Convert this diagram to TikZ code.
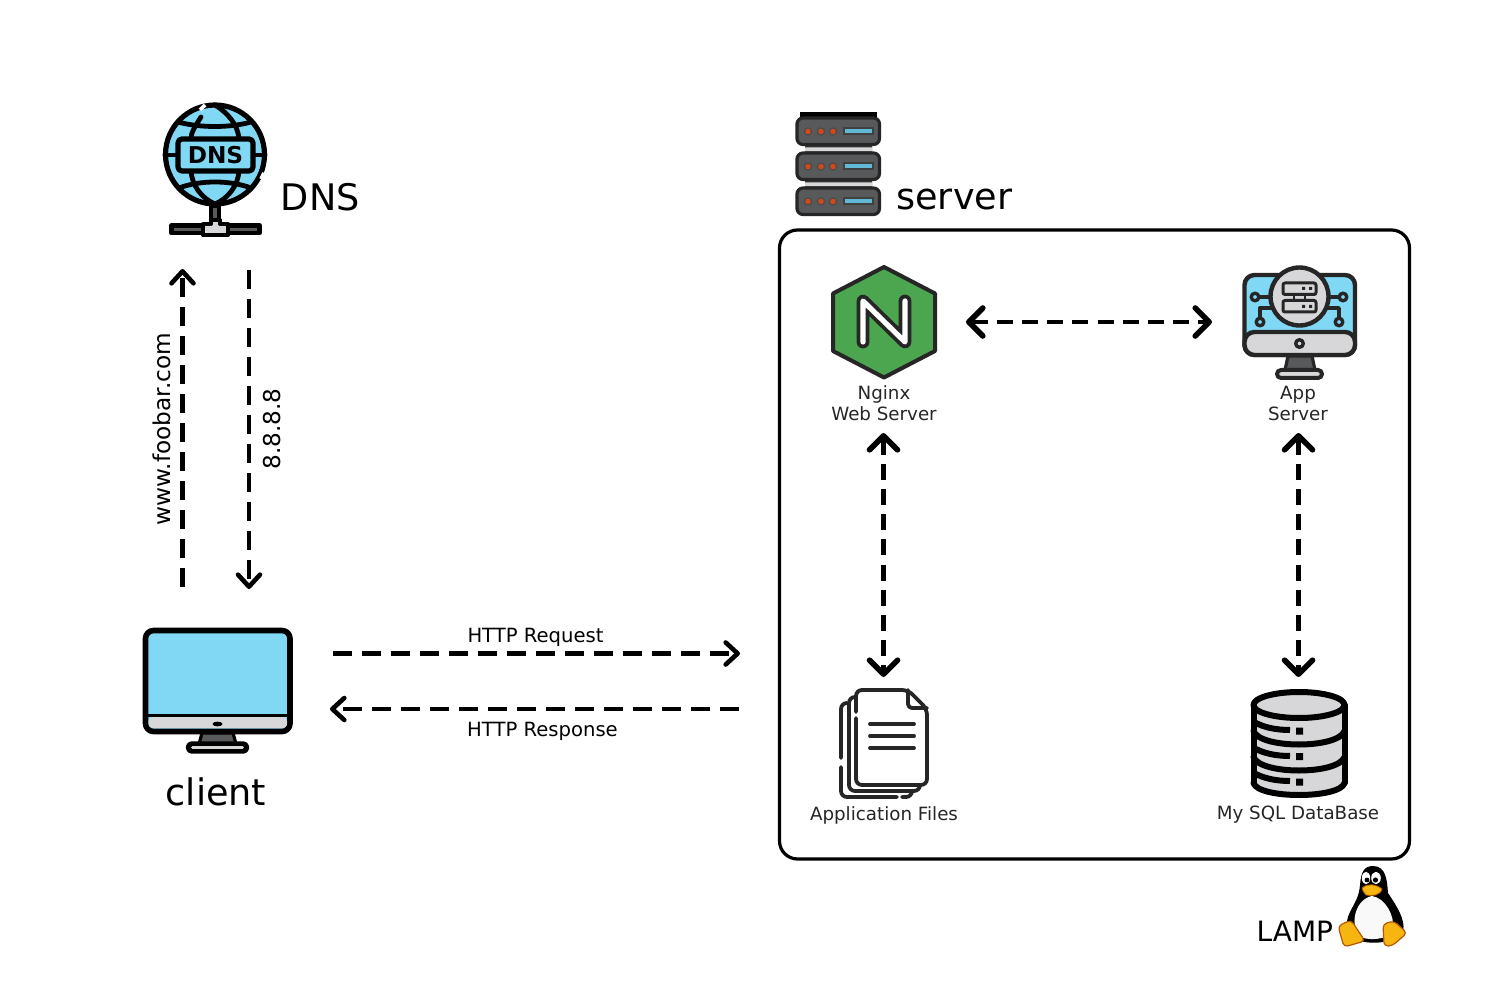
\documentclass[tikz,border=0pt]{standalone}
\usepackage{fontspec}
\setmainfont{DejaVu Sans}
\usetikzlibrary{arrows.meta}
\definecolor{skyb}{HTML}{81D8F5}
\definecolor{lgray}{HTML}{D7D7D9}
\definecolor{dgray}{HTML}{58595B}
\definecolor{ngreen}{HTML}{4CA650}
\definecolor{tuxo}{HTML}{F7B512}
\definecolor{srvdot}{HTML}{D0481C}
\definecolor{srvbar}{HTML}{62B9D6}
\tikzset{
  flow/.style={line width=2.4pt,dash pattern=on 9.5pt off 5pt,-{Straight Barb[length=6pt,width=11pt,round,line width=2.3pt]}},
  flowb/.style={line width=2.2pt,dash pattern=on 8pt off 4.6pt,{Straight Barb[length=7pt,width=14pt,round,line width=2.8pt]}-{Straight Barb[length=7pt,width=14pt,round,line width=2.8pt]}},
  icon/.style={line width=2.6pt,line join=round,line cap=round,draw=black},
  thin icon/.style={line width=1.5pt,line join=round,line cap=round,draw=black!85},
  big/.style={font=\fontsize{18.3pt}{22pt}\selectfont,inner sep=0pt},
  small/.style={font=\fontsize{9.13pt}{10.5pt}\selectfont,inner sep=0pt,align=center,text=black!85},
  edge label/.style={font=\fontsize{9.8pt}{12pt}\selectfont,inner sep=0pt},
  side label/.style={font=\fontsize{11.6pt}{14pt}\selectfont,inner sep=0pt,rotate=90},
}
\begin{document}
\begin{tikzpicture}[x=0.5pt,y=-0.5pt]
\useasboundingbox (0,0) rectangle (1500,1000);
\fill[white] (0,0) rectangle (1500,1000);

% ---------- DNS icon
\draw[icon,fill=skyb] (215,154.5) circle (49.5);
\draw[icon,line width=2.4pt] (201,117) .. controls (194,128) and (191,133) .. (191,139);
\draw[icon,line width=2.4pt] (215,105) .. controls (228,113) and (238,125) .. (239,139);
\draw[icon,line width=2.4pt] (191,171) .. controls (192,185) and (201,198) .. (215,204) .. controls (229,198) and (238,185) .. (239,171);
\draw[icon,line width=2.4pt] (178,122) .. controls (200,128) and (230,128) .. (251,122);
\draw[icon,line width=2.4pt] (179,188) .. controls (200,180) and (230,180) .. (251,188);
\draw[icon,line width=2.4pt] (165,155)--(178,155) (253,155)--(265,155);
\draw[icon,fill=skyb,rounded corners=2pt] (178,139) rectangle (253,171);
\draw[white,line width=1.8pt] (205,105)--(200,110);
\draw[white,line width=1.8pt] (264,173)--(261,179);
\node[font=\bfseries\fontsize{11.6pt}{14pt}\selectfont,inner sep=0pt] (dnsword) at (215.5,155) {DNS};
\draw[icon,fill=dgray,line width=1.8pt] (211,206) rectangle (219,222);
\draw[icon,fill=dgray,line width=2.2pt] (171.5,225.5) rectangle (259.5,233);
\draw[icon,fill=lgray,line width=2pt] (203,224) -- (211,224) -- (211,220) -- (220,220) -- (220,224) -- (228,224) -- (228,235) -- (203,235) -- cycle;
\node[big,anchor=base west] (dns) at (280.5,211) {DNS};

% ---------- server icon
\fill[black] (800,112.5) rectangle (877,119);
\fill[black!80] (805,145) rectangle (872,153) (805,180) rectangle (872,188);
\fill[lgray] (805,147.5) rectangle (872,151.5) (805,182.5) rectangle (872,186.5);
\foreach \y in {117,152,187}{
  \draw[icon,line width=1.6pt,fill=dgray,rounded corners=3pt,draw=black!85] (797,\y+1) rectangle (879.5,\y+27.5);
  \foreach \x in {808,821,833}{ \fill[black!70] (\x,\y+14.5) circle (4.3); \fill[srvdot] (\x,\y+14.5) circle (2.8); }
  \fill[black!75] (842.5,\y+10) rectangle (874,\y+18.5);
  \fill[srvbar] (844.5,\y+12) rectangle (872,\y+16.5);
}
\node[big,anchor=base west] (server) at (896,210) {server};

% ---------- LAMP box
\draw[black,line width=1.6pt,rounded corners=9pt,fill=white] (779.5,230) rectangle (1409.5,859);

% ---------- nginx icon
\draw[fill=ngreen,draw=black!85,line width=2pt,line join=round] (884,267) -- (935,293.5) -- (935,351) -- (884,377.5) -- (833,351) -- (833,293.5) -- cycle;
\draw[black!85,line width=6.4pt,line join=round,line cap=round] (863,342) -- (863,301) -- (905,342) -- (905,301);
\draw[white,line width=2.6pt,line join=round,line cap=round] (863,342) -- (863,301) -- (905,342) -- (905,301);
\node[small] (nginx) at (884,403) {Nginx\\Web Server};

% ---------- app server icon
\draw[thin icon,line width=2.2pt,fill=skyb,rounded corners=5pt] (1244.5,275) rectangle (1355,355);
\draw[thin icon,line width=2.2pt,fill=lgray,rounded corners=5pt] (1244.5,332) -- (1355,332) -- (1355,355) -- (1244.5,355) -- cycle;
\draw[thin icon,fill=dgray,line width=1.6pt] (1288,356) -- (1312,356) -- (1315,370) -- (1285,370) -- cycle;
\draw[thin icon,fill=lgray,line width=2pt,rounded corners=2pt] (1277,370) rectangle (1322,378);
\draw[thin icon,fill=lgray,line width=1.7pt] (1299.5,343.5) circle (3.8);
\draw[thin icon,line width=1.7pt] (1259,297)--(1272,297) (1339,297)--(1328,297);
\draw[thin icon,line width=1.7pt] (1260,318)--(1260,308)--(1273,308) (1339,318)--(1339,308)--(1326,308);
\draw[thin icon,fill=skyb,line width=1.7pt] (1255,297) circle (3.8) (1343,297) circle (3.8) (1260,322) circle (3.8) (1339,322) circle (3.8);
\draw[thin icon,fill=lgray,line width=2.2pt] (1299.5,296.5) circle (29);
\draw[thin icon,fill=lgray,line width=1.5pt,rounded corners=1pt] (1283,283) rectangle (1316,294.5);
\draw[thin icon,fill=lgray,line width=1.5pt,rounded corners=1pt] (1283,300.5) rectangle (1316,312);
\draw[thin icon,line width=1pt] (1294,294.5)--(1294,300.5) (1305,294.5)--(1305,300.5);
\fill[black!85] (1302,287) rectangle (1305,290) (1309,287) rectangle (1312,290) (1302,305) rectangle (1305,308) (1309,305) rectangle (1312,308);
\node[small] (app) at (1298,403) {App\\Server};

% ---------- files icon
\begin{scope}[thin icon/.append style={line width=1.9pt}]
\draw[thin icon,rounded corners=3pt] (841,758) -- (841,703) -- (847,703);
\draw[thin icon,rounded corners=3pt] (841,767) -- (841,797) -- (897,797);
\draw[thin icon,rounded corners=3pt] (902,797) -- (912,797) -- (912,791);
\draw[thin icon,rounded corners=3pt] (849,785) -- (849,697) -- (855,697);
\draw[thin icon,rounded corners=3pt] (849,780) -- (849,791) -- (920,791) -- (920,785);
\draw[thin icon,rounded corners=3pt] (856,712) -- (856,690) -- (908,690) -- (927,709) -- (927,785) -- (856,785) -- (856,718);
\draw[thin icon,rounded corners=2pt] (908,690) -- (908,708) -- (927,708);
\draw[thin icon,line cap=round] (870,724)--(914,724) (870,736)--(914,736) (870,748)--(914,748);
\end{scope}
\node[small] (files) at (884,815) {Application Files};

% ---------- database icon
\fill[lgray] (1253,705) -- (1253,783) .. controls (1258,801) and (1340,801) .. (1345,783) -- (1345,705) -- cycle;
\draw[icon,line width=3pt] (1253.5,705) -- (1253.5,783) (1344.5,705) -- (1344.5,783);
\draw[icon,line width=3pt] (1253.5,783) .. controls (1258,799) and (1340,799) .. (1344.5,783);
\draw[icon,line width=3pt] (1253.5,731) .. controls (1260,749) and (1338,749) .. (1344.5,731);
\draw[icon,line width=3pt] (1253.5,757) .. controls (1260,775) and (1338,775) .. (1344.5,757);
\draw[icon,line width=3pt,fill=lgray] (1299,705) ellipse (45.5 and 13);
\draw[icon,line width=3pt,line cap=butt] (1254,722) .. controls (1263,727) and (1275,730) .. (1290,730);
\draw[icon,line width=3pt,line cap=butt] (1254,748) .. controls (1263,753) and (1275,756) .. (1290,756);
\draw[icon,line width=3pt,line cap=butt] (1254,773) .. controls (1263,778) and (1275,781) .. (1290,781);
\fill[black] (1296,727.5) rectangle (1303,734.5) (1296,753) rectangle (1303,760) (1296,778.5) rectangle (1303,785.5);
\node[small] (db) at (1298,815) {My SQL DataBase};

% ---------- client icon
\draw[icon,line width=2.8pt,fill=skyb,rounded corners=4pt] (145.5,630.5) rectangle (290,731.5);
\fill[black] (146,714) rectangle (290,717);
\fill[lgray,rounded corners=2pt] (148.5,717) -- (287,717) -- (287,728) -- (148.5,728) -- cycle;
\fill[black] (217.5,724) ellipse (5 and 2.4);
\draw[icon,line width=1.6pt,fill=dgray] (202,733) -- (233,733) -- (236,744) -- (199,744) -- cycle;
\draw[icon,line width=2.6pt,fill=white,rounded corners=1.5pt] (188.5,744) rectangle (246.5,751);
\fill[lgray] (192,746) rectangle (243,749);
\node[big,anchor=base] (client) at (216,805.5) {client};

% ---------- Tux
\fill[black] (1373,866) .. controls (1386,866) and (1387,880) .. (1388,893) .. controls (1396,905) and (1406,920) .. (1403,931)
 .. controls (1398,942) and (1375,945) .. (1360,941) .. controls (1348,938) and (1343,925) .. (1350,912) .. controls (1355,902) and (1359,897) .. (1360,885) .. controls (1361,872) and (1364,866) .. (1373,866) -- cycle;
\fill[white!95!gray] (1372,896) .. controls (1385,898) and (1395,915) .. (1393,930) .. controls (1390,940) and (1365,942) .. (1358,935) .. controls (1350,922) and (1356,899) .. (1372,896) -- cycle;
\fill[white] (1366,878) ellipse (4.2 and 6.2) (1376,878) ellipse (4.8 and 6.2);
\fill[black] (1367,880) circle (2.4) (1375.5,880) circle (2.6);
\fill[tuxo,draw=orange!70!black,line width=.4pt] (1362,888) .. controls (1368,883) and (1376,884) .. (1382,889) .. controls (1380,896) and (1372,896) .. (1366,895) .. controls (1364,893) and (1362,890) .. (1362,888) -- cycle;
\fill[tuxo,draw=orange!70!black,line width=.6pt,rounded corners=2pt] (1338,926) -- (1351,920) -- (1365,941) -- (1344,947) -- cycle;
\fill[tuxo,draw=orange!70!black,line width=.6pt,rounded corners=2pt] (1383,924) -- (1394,921) -- (1407,933) -- (1392,946) -- (1384,946) -- cycle;
\node[font=\fontsize{14pt}{17pt}\selectfont,inner sep=0pt,anchor=base east] (lamp) at (1333.5,941) {LAMP};

% ---------- connector end points
\coordinate (clientUp) at (182.5,587);
\coordinate (dnsIn) at (182.5,269);
\coordinate (dnsOut) at (249,270);
\coordinate (clientIn) at (249,589);
\coordinate (reqA) at (333,653.5);
\coordinate (reqB) at (740,653.5);
\coordinate (resA) at (739,709);
\coordinate (resB) at (330,709);
\coordinate (ngxR) at (966,322);
\coordinate (appL) at (1212,322);
\coordinate (ngxB) at (883.5,433);
\coordinate (filesT) at (883.5,677);
\coordinate (appB) at (1298.5,433);
\coordinate (dbT) at (1298.5,677);

\draw[flow] (clientUp) -- (dnsIn);
\draw[flow] (dnsOut) -- (clientIn);
\draw[flow] (reqA) -- (reqB);
\draw[flow] (resA) -- (resB);
\draw[flowb] (ngxR) -- (appL);
\draw[flowb] (ngxB) -- (filesT);
\draw[flowb] (appB) -- (dbT);

\node[side label] (foobar) at (162,429) {www.foobar.com};
\node[side label] (ip) at (272,429) {8.8.8.8};
\node[edge label] (req) at (535.5,637) {HTTP Request};
\node[edge label] (res) at (542.5,731) {HTTP Response};
\end{tikzpicture}
\end{document}
